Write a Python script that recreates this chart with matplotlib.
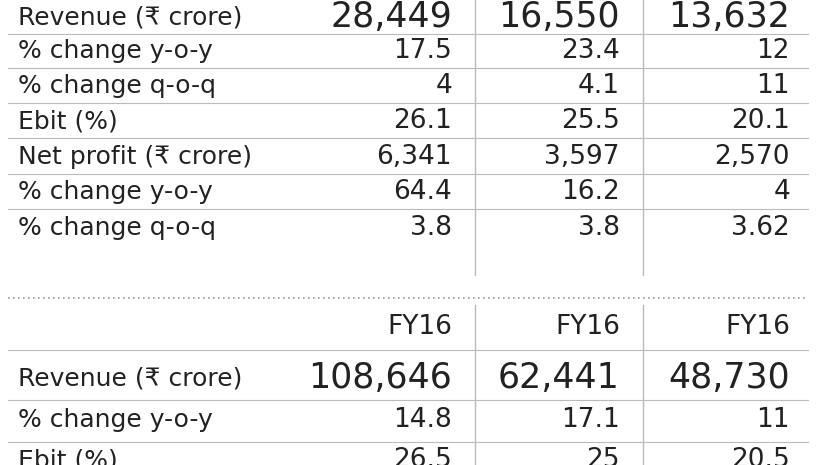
import matplotlib.pyplot as plt

plt.rcParams['font.family'] = ['DejaVu Sans Condensed', 'DejaVu Sans']

top_labels = ["Revenue (₹ crore)", "% change y-o-y", "% change q-o-q", "Ebit (%)",
              "Net profit (₹ crore)", "% change y-o-y", "% change q-o-q"]
top_col1 = ["28,449", "17.5", "4", "26.1", "6,341", "64.4", "3.8"]
top_col2 = ["16,550", "23.4", "4.1", "25.5", "3,597", "16.2", "3.8"]
top_col3 = ["13,632", "12", "11", "20.1", "2,570", "4", "3.62"]

year_labels = ["FY16", "FY16", "FY16"]
bot_labels = ["Revenue (₹ crore)", "% change y-o-y", "Ebit (%)"]
bot_col1 = ["108,646", "14.8", "26.5"]
bot_col2 = ["62,441", "17.1", "25"]
bot_col3 = ["48,730", "11", "20.5"]

fig = plt.figure(figsize=(8.26, 4.65), dpi=100)
ax = fig.add_axes([0, 0, 1, 1])
ax.set_xlim(0, 826)
ax.set_ylim(465, 0)
ax.axis("off")

col_x = [452, 620, 790]
txt = "#222222"
line = "#bbbbbb"

top_y = [17, 51, 86, 121, 157, 192, 228]
for i, lab in enumerate(top_labels):
    y = top_y[i]
    big = lab.startswith("Revenue")
    vs = 25 if big else 19
    ax.text(18, y, lab, fontsize=18, color=txt, va="center", ha="left")
    for x, col in zip(col_x, [top_col1, top_col2, top_col3]):
        ax.text(x, y, col[i], fontsize=vs, color=txt, va="center", ha="right")
    if i < len(top_labels) - 1:
        ax.plot([8, 808], [y + 17, y + 17], color=line, lw=0.8)
for x in [475, 643]:
    ax.plot([x, x], [0, 275], color=line, lw=1)

ax.plot([8, 808], [298, 298], color="#999999", lw=1.2, ls=(0, (1, 2)))

for x, lab in zip(col_x, year_labels):
    ax.text(x, 327, lab, fontsize=19, color=txt, va="center", ha="right")
ax.plot([8, 808], [350, 350], color=line, lw=0.8)

bot_y = [378, 420, 460]
for i, lab in enumerate(bot_labels):
    y = bot_y[i]
    big = lab.startswith("Revenue")
    vs = 25 if big else 19
    ax.text(18, y, lab, fontsize=18, color=txt, va="center", ha="left")
    for x, col in zip(col_x, [bot_col1, bot_col2, bot_col3]):
        ax.text(x, y, col[i], fontsize=vs, color=txt, va="center", ha="right")
    ax.plot([8, 808], [y + 22, y + 22], color=line, lw=0.8)
for x in [475, 643]:
    ax.plot([x, x], [305, 465], color=line, lw=1)

fig.savefig("out.png", dpi=100, facecolor="white")
